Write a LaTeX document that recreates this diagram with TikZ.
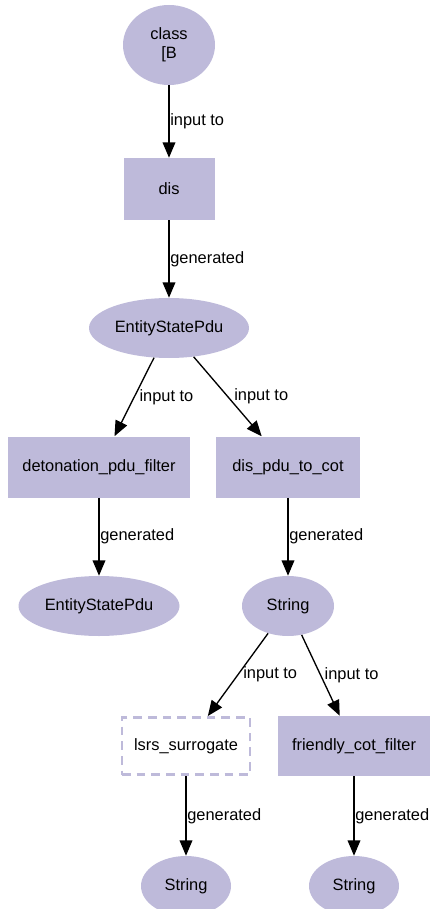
\documentclass[tikz,border=0pt]{standalone}
\usepackage{fontspec}
\setmainfont{Liberation Sans}
\usetikzlibrary{positioning}
\usetikzlibrary{shapes.geometric}
\usetikzlibrary{arrows.meta}
\definecolor{lav}{HTML}{BEBADA}

\begin{document}
\begin{tikzpicture}[x=0.75pt, y=-0.75pt,
		every node/.style={font=\fontsize{12.3}{14.5}\selectfont},
		data/.style={ellipse, fill=lav, inner sep=0pt},
		proc/.style={rectangle, fill=lav, inner sep=0pt},
		ghost/.style={rectangle, draw=lav, line width=2pt, dash pattern=on 6.5pt off 4.5pt, inner sep=0pt},
		edge/.style={-{Triangle[length=11.5pt, width=9.5pt]}, line width=1pt},
		lbl/.style={anchor=west, inner sep=0.5pt}]

				\useasboundingbox (0,0) rectangle (433,909);

				\node[data, minimum width=69pt, minimum height=60pt, align=center] (B) at (169,45) {class\\{}[B};
				\node[proc, minimum width=68.25pt, minimum height=46.5pt] (dis) at (169,189) {dis};
				\node[data, minimum width=120pt, minimum height=45pt] (esp1) at (169,328) {EntityStatePdu};

				\draw[edge] (B) -- node[lbl] {input to} (dis);
				\draw[edge] (dis) -- node[lbl] {generated} (esp1);

				\node[proc, minimum width=136.5pt, minimum height=45.75pt] (deto) at (99,467) {detonation\_pdu\_filter};
				\node[proc, minimum width=108pt, minimum height=45.75pt] (tocot) at (288,467) {dis\_pdu\_to\_cot};

				\draw[edge] (esp1) -- node[lbl, xshift=3pt] {input to} (deto);
				\draw[edge] (esp1) -- node[lbl, xshift=4pt] {input to} (tocot);

				\node[data, minimum width=120.75pt, minimum height=45pt] (esp2) at (99,606) {EntityStatePdu};
				\node[data, minimum width=69pt, minimum height=45pt] (str1) at (288,606) {String};

				\draw[edge] (deto) -- node[lbl] {generated} (esp2);
				\draw[edge] (tocot) -- node[lbl] {generated} (str1);

				\node[ghost, minimum width=96pt, minimum height=43pt] (lsrs) at (186,746) {lsrs\_surrogate};
				\node[proc, minimum width=114pt, minimum height=45pt] (friend) at (354,746) {friendly\_cot\_filter};

				\draw[edge] (str1) -- node[lbl, xshift=3pt] {input to} (lsrs);
				\draw[edge] (str1) -- node[lbl, xshift=2pt] {input to} (friend);

				\node[data, minimum width=67.5pt, minimum height=45pt] (str2) at (186,886) {String};
				\node[data, minimum width=67.5pt, minimum height=45pt] (str3) at (354,886) {String};

				\draw[edge] (lsrs) -- node[lbl] {generated} (str2);
				\draw[edge] (friend) -- node[lbl] {generated} (str3);

\end{tikzpicture}
\end{document}
